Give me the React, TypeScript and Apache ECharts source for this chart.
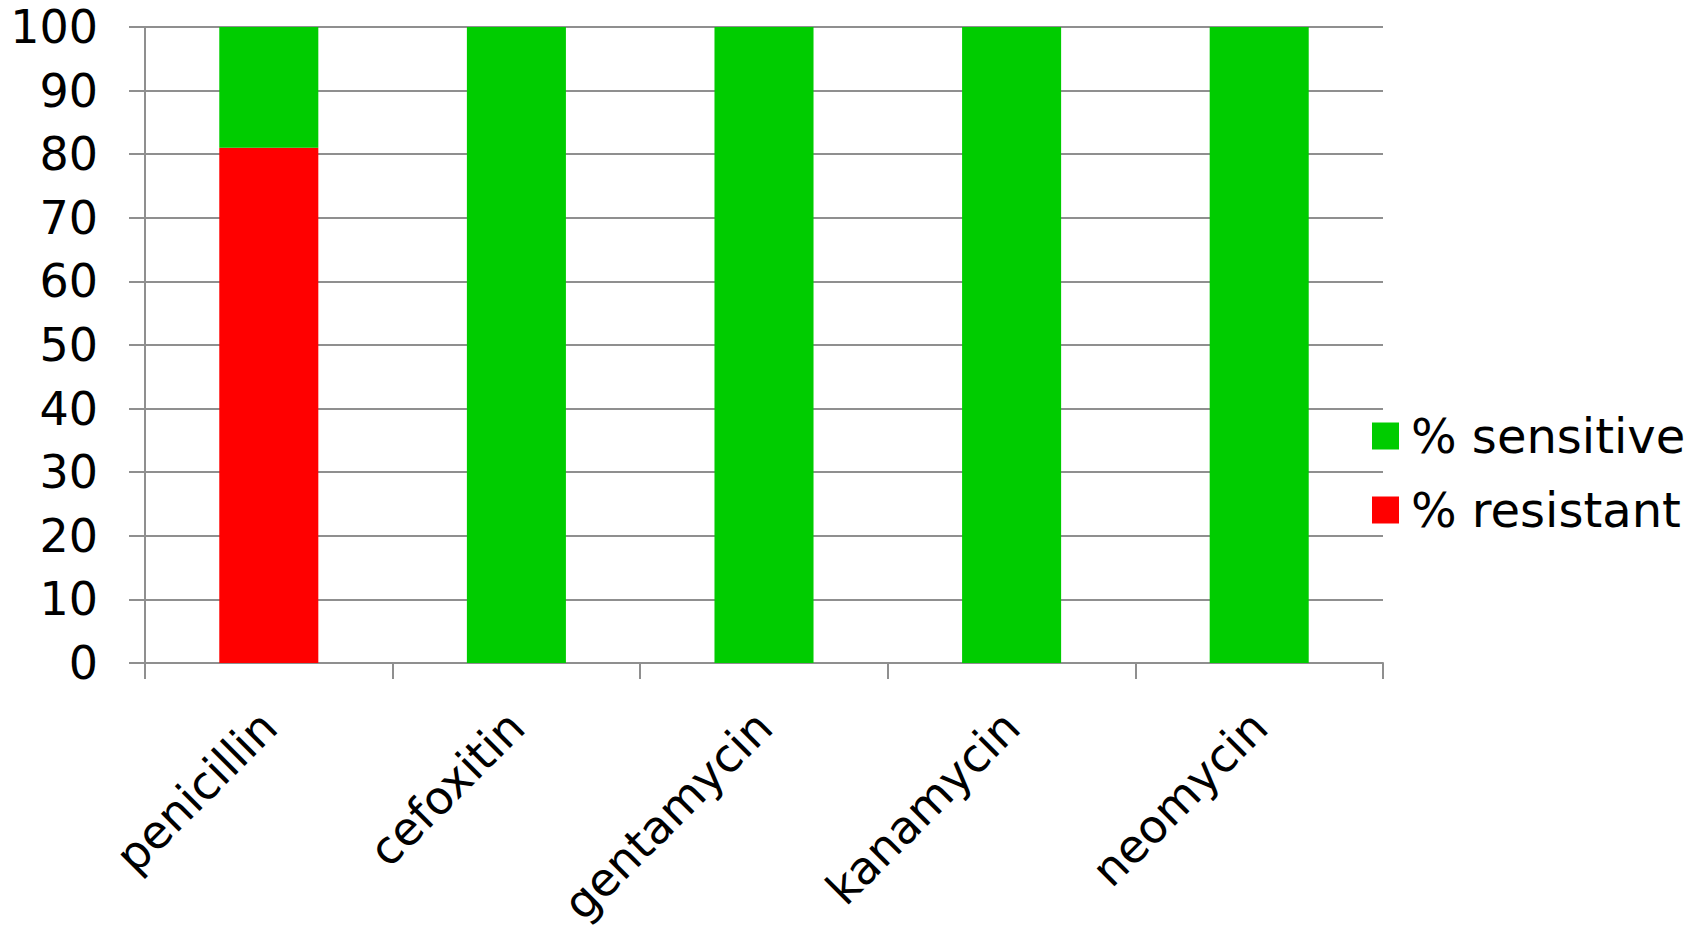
import React, { useEffect, useRef } from "react";
import * as echarts from "echarts";

const categories = ["penicillin", "cefoxitin", "gentamycin", "kanamycin", "neomycin"];
const resistant = [81, 0, 0, 0, 0];
const sensitive = [19, 100, 100, 100, 100];
const seriesNames = ["% sensitive", "% resistant"];

export default function App() {
  const ref = useRef<HTMLDivElement>(null);
  useEffect(() => {
    if (!ref.current) return;
    const chart = echarts.init(ref.current, undefined, { renderer: "svg" });
    const font = "DejaVu Sans";
    const gray = "#8f8f8f";
    chart.setOption({
      animation: false,
      backgroundColor: "#ffffff",
      textStyle: { fontFamily: font },
      grid: {
        left: 145,
        right: 325,
        top: 27,
        bottom: 267,
        containLabel: false,
        outerBoundsMode: "none",
      },
      legend: {
        orient: "vertical",
        left: 1372,
        top: 411,
        padding: 0,
        itemWidth: 27,
        itemHeight: 27,
        itemGap: 24,
        icon: "rect",
        data: seriesNames,
        textStyle: { fontFamily: font, fontSize: 48, color: "#000", lineHeight: 50, padding: [0, 0, 0, 7] },
      },
      xAxis: {
        type: "category",
        data: categories,
        axisLine: { show: true, lineStyle: { color: gray, width: 2 } },
        axisTick: { show: true, length: 16, lineStyle: { color: gray, width: 2 } },
        axisLabel: {
          rotate: 45,
          interval: 0,
          margin: 56,
          fontSize: 46,
          color: "#000",
          fontFamily: font,
        },
      },
      yAxis: {
        type: "value",
        min: 0,
        max: 100,
        interval: 10,
        axisLine: { show: true, lineStyle: { color: gray, width: 2 } },
        axisTick: { show: true, length: 16, lineStyle: { color: gray, width: 2 } },
        splitLine: { show: true, lineStyle: { color: gray, width: 2 } },
        axisLabel: { fontSize: 46, color: "#000", margin: 47, fontFamily: font },
      },
      series: [
        {
          name: "% resistant",
          type: "bar",
          stack: "total",
          data: resistant,
          barWidth: "40%",
          itemStyle: { color: "#ff0000" },
        },
        {
          name: "% sensitive",
          type: "bar",
          stack: "total",
          data: sensitive,
          barWidth: "40%",
          itemStyle: { color: "#00cc00" },
        },
      ],
    });
    return () => chart.dispose();
  }, []);
  return (
    <div
      ref={ref}
      style={{ position: "absolute", left: 0, top: 0, width: 1708, height: 930 }}
    />
  );
}
